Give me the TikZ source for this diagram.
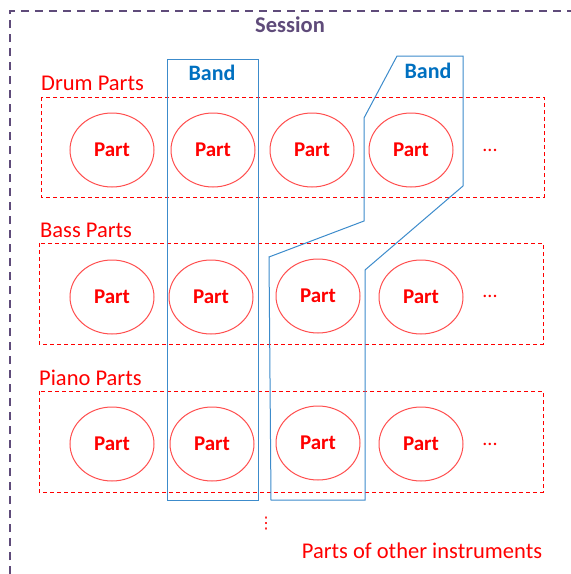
\documentclass[tikz,border=0pt]{standalone}
\usepackage{fontspec}
\setmainfont{Carlito}
\newfontfamily\symfont{DejaVu Sans}
\usetikzlibrary{shapes.geometric}
\definecolor{sessionpurple}{HTML}{5F4B7A}
\definecolor{partred}{HTML}{FF0000}
\definecolor{ringred}{HTML}{FF4F4F}
\definecolor{bandline}{HTML}{3C8BCB}
\definecolor{bandtext}{HTML}{0070C0}
\tikzset{
  partnode/.style={ellipse, draw=ringred, line width=1pt, minimum width=84pt,
    minimum height=74pt, inner sep=0pt, text=partred, font=\fontsize{21}{21}\selectfont\bfseries},
  groupbox/.style={draw=partred, dashed, dash pattern=on 4pt off 3pt, line width=0.8pt},
  grouplabel/.style={text=partred, font=\fontsize{22.5}{22.5}\selectfont, anchor=west, inner sep=0pt},
  bandshape/.style={draw=bandline, line width=1pt},
  bandlabel/.style={text=bandtext, font=\fontsize{22}{22}\selectfont\bfseries, inner sep=0pt},
  more/.style={text=partred, font=\fontsize{20}{20}\selectfont, inner sep=0pt},
}
\begin{document}
\begin{tikzpicture}[x=1pt, y=-1pt]
\useasboundingbox (0,0) rectangle (571,574);
% session frame (continues past the page edge)
\draw[sessionpurple, line width=2pt, dash pattern=on 8pt off 6pt]
  (10,574) -- (10,11) -- (575,11);
\node[text=sessionpurple, font=\fontsize{22.5}{22.5}\selectfont\bfseries, inner sep=0pt] (session) at (290,25) {Session};

% instrument groups
\node[grouplabel] (drumlbl) at (41,83) {Drum Parts};
\draw[groupbox] (41,97) rectangle (544,197);
\node[grouplabel] (basslbl) at (40,230) {Bass Parts};
\draw[groupbox] (39,243) rectangle (543,344);
\node[grouplabel] (pianolbl) at (39,378) {Piano Parts};
\draw[groupbox] (39,391) rectangle (543,492);

% parts
\node[partnode] (d1) at (112,150) {Part};
\node[partnode] (d2) at (213,150) {Part};
\node[partnode] (d3) at (312,150) {Part};
\node[partnode] (d4) at (411,150) {Part};
\node[more] (dm) at (490,150) {...};
\node[partnode] (b1) at (112,297) {Part};
\node[partnode] (b2) at (211,297) {Part};
\node[partnode] (b3) at (318,296) {Part};
\node[partnode] (b4) at (421,297) {Part};
\node[more] (bm) at (490,296) {...};
\node[partnode] (p1) at (112,444) {Part};
\node[partnode] (p2) at (212,444) {Part};
\node[partnode] (p3) at (318,443) {Part};
\node[partnode] (p4) at (421,444) {Part};
\node[more] (pm) at (490,444) {...};

% bands
\draw[bandshape] (167,59) rectangle (258,500);
\node[bandlabel] (band1) at (212,73) {Band};
\draw[bandshape] (397,56) -- (463,56) -- (463,186) -- (365,270) -- (365,500)
  -- (271,500) -- (269,257) -- (364,221) -- (364,118) -- cycle;
\node[bandlabel] (band2) at (428,71) {Band};

% further instruments
\node[text=partred, font=\symfont\fontsize{16}{16}\selectfont, inner sep=0pt] (vdots) at (266,524) {⋮};
\node[text=partred, font=\fontsize{22.5}{22.5}\selectfont, inner sep=0pt] (others) at (422,551) {Parts of other instruments};
\end{tikzpicture}
\end{document}
